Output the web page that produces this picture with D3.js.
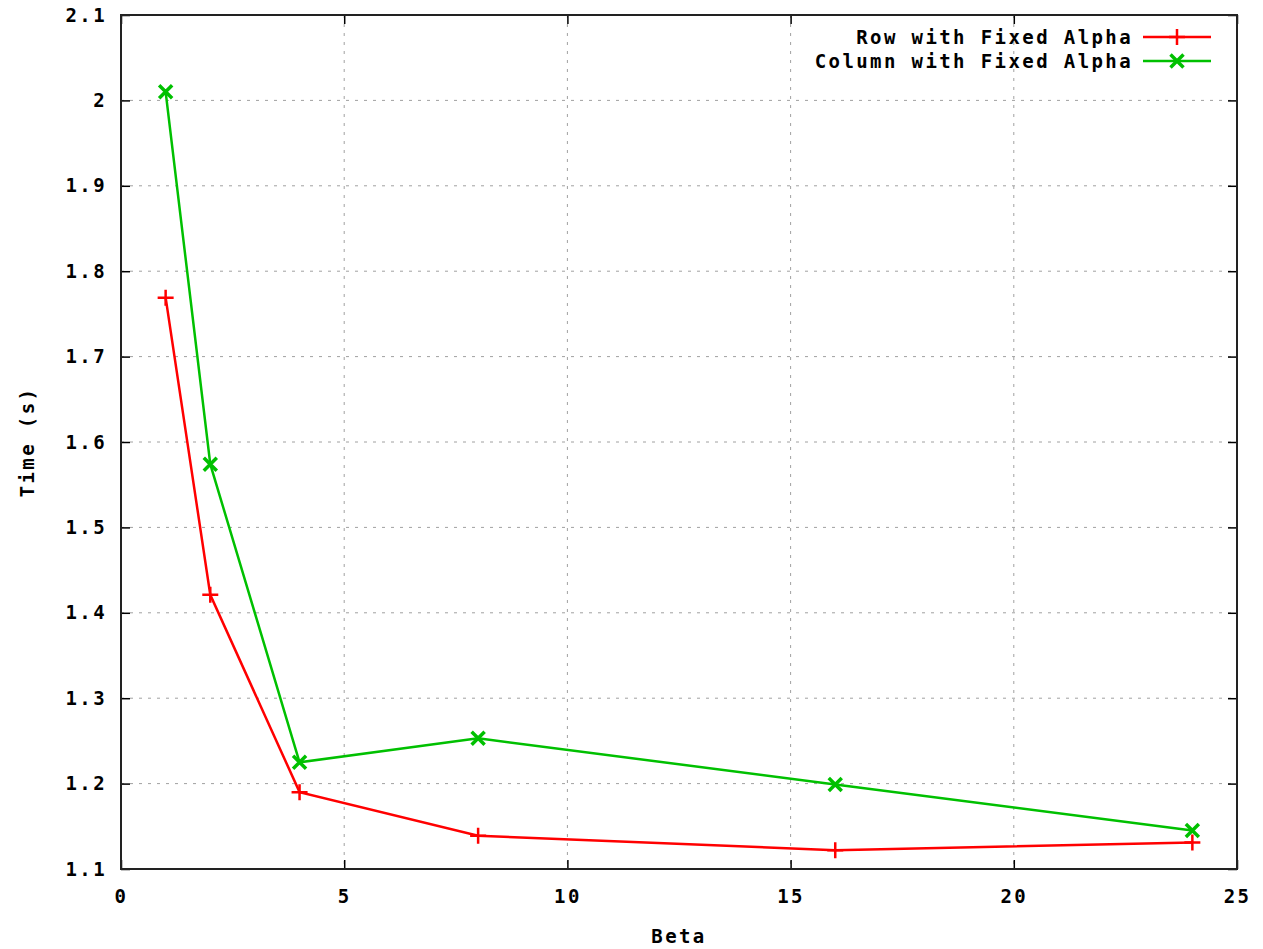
<!DOCTYPE html>
<html>
<head>
<meta charset="utf-8">
<script src="https://cdn.jsdelivr.net/npm/d3@7"></script>
<style>
  body { margin: 0; background: #fff; }
  text { font-family: "DejaVu Sans Mono", monospace; font-weight: bold; font-size: 19px; letter-spacing: 2.4px; fill: #000; }
</style>
</head>
<body>
<div id="chart"></div>
<script>
// data
const beta = [1, 2, 4, 8, 16, 24];
const rowTime = [1.769, 1.421, 1.190, 1.139, 1.122, 1.131];
const colTime = [2.010, 1.574, 1.225, 1.253, 1.199, 1.145];
const seriesNames = ["Row with Fixed Alpha", "Column with Fixed Alpha"];
const xTicks = [0, 5, 10, 15, 20, 25];
const yTicks = [1.1, 1.2, 1.3, 1.4, 1.5, 1.6, 1.7, 1.8, 1.9, 2, 2.1];

const W = 1263, H = 949;
const margin = { top: 15, right: 26, bottom: 80, left: 121 };
const width = W - margin.left - margin.right;
const height = H - margin.top - margin.bottom;

const svg = d3.select("#chart").append("svg")
  .attr("width", W)
  .attr("height", H);

const g = svg.append("g")
  .attr("transform", "translate(" + margin.left + "," + margin.top + ")");

const x = d3.scaleLinear().domain([0, 25]).range([0, width]);
const y = d3.scaleLinear().domain([1.1, 2.1]).range([height, 0]);

// grid
g.append("g").selectAll("line")
  .data(xTicks.slice(1, -1))
  .enter().append("line")
  .attr("x1", d => x(d)).attr("x2", d => x(d))
  .attr("y1", 0).attr("y2", height)
  .attr("stroke", "#a0a0a0").attr("stroke-width", 1)
  .attr("stroke-dasharray", "3,6");

g.append("g").selectAll("line")
  .data(yTicks.slice(1, -1))
  .enter().append("line")
  .attr("x1", 0).attr("x2", width)
  .attr("y1", d => y(d)).attr("y2", d => y(d))
  .attr("stroke", "#a0a0a0").attr("stroke-width", 1)
  .attr("stroke-dasharray", "3,6");

// axes with inward ticks, mirrored
g.append("g").attr("transform", "translate(0," + height + ")")
  .call(d3.axisBottom(x).tickValues(xTicks).tickSize(-9).tickPadding(21).tickFormat(d3.format("d")))
  .call(a => a.select(".domain").remove());
g.append("g")
  .call(d3.axisTop(x).tickValues(xTicks).tickSize(-9).tickFormat(""))
  .call(a => a.select(".domain").remove());
g.append("g")
  .call(d3.axisLeft(y).tickValues(yTicks).tickSize(-9).tickPadding(14).tickFormat(d => d === 2 ? "2" : d3.format(".1f")(d)))
  .call(a => a.select(".domain").remove());
g.append("g").attr("transform", "translate(" + width + ",0)")
  .call(d3.axisRight(y).tickValues(yTicks).tickSize(-9).tickFormat(""))
  .call(a => a.select(".domain").remove());

g.selectAll(".tick line").attr("stroke", "#000").attr("stroke-width", 1.5);
g.selectAll(".tick text")
  .style("font-family", "'DejaVu Sans Mono', monospace")
  .style("font-weight", "bold").style("font-size", "19px").style("letter-spacing", "2.4px");

g.append("rect")
  .attr("width", width).attr("height", height)
  .attr("fill", "none").attr("stroke", "#222").attr("stroke-width", 2);

// axis titles
svg.append("text")
  .attr("x", margin.left + width / 2).attr("y", 943)
  .attr("text-anchor", "middle").text("Beta");
svg.append("text")
  .attr("transform", "translate(34," + (margin.top + height / 2) + ") rotate(-90)")
  .attr("text-anchor", "middle").text("Time (s)");

// series
const line = d3.line().x(d => x(d[0])).y(d => y(d[1]));
const series = [
  { name: seriesNames[0], values: rowTime, color: "#ff0000", mark: "plus" },
  { name: seriesNames[1], values: colTime, color: "#00c000", mark: "cross" }
];

function marker(sel, kind, color) {
  const s = kind === "plus" ? 8 : 6.5;
  const p = kind === "plus"
    ? "M" + (-s) + ",0H" + s + "M0," + (-s) + "V" + s
    : "M" + (-s) + "," + (-s) + "L" + s + "," + s + "M" + (-s) + "," + s + "L" + s + "," + (-s);
  sel.append("path").attr("d", p).attr("stroke", color)
    .attr("stroke-width", kind === "plus" ? 2.5 : 3.5).attr("fill", "none");
}

series.forEach(s => {
  const pts = beta.map((b, i) => [b, s.values[i]]);
  g.append("path").datum(pts)
    .attr("d", line).attr("fill", "none")
    .attr("stroke", s.color).attr("stroke-width", 2.5);
  pts.forEach(p => {
    const m = g.append("g").attr("transform", "translate(" + x(p[0]) + "," + y(p[1]) + ")");
    marker(m, s.mark, s.color);
  });
});

// legend
const leg = svg.append("g");
series.forEach((s, i) => {
  const ly = 37 + i * 24;
  leg.append("text").attr("x", 1133).attr("y", ly + 7)
    .attr("text-anchor", "end").text(s.name);
  leg.append("line").attr("x1", 1143).attr("x2", 1211)
    .attr("y1", ly).attr("y2", ly)
    .attr("stroke", s.color).attr("stroke-width", 2.5);
  const m = leg.append("g").attr("transform", "translate(1177," + ly + ")");
  marker(m, s.mark, s.color);
});
</script>
</body>
</html>
